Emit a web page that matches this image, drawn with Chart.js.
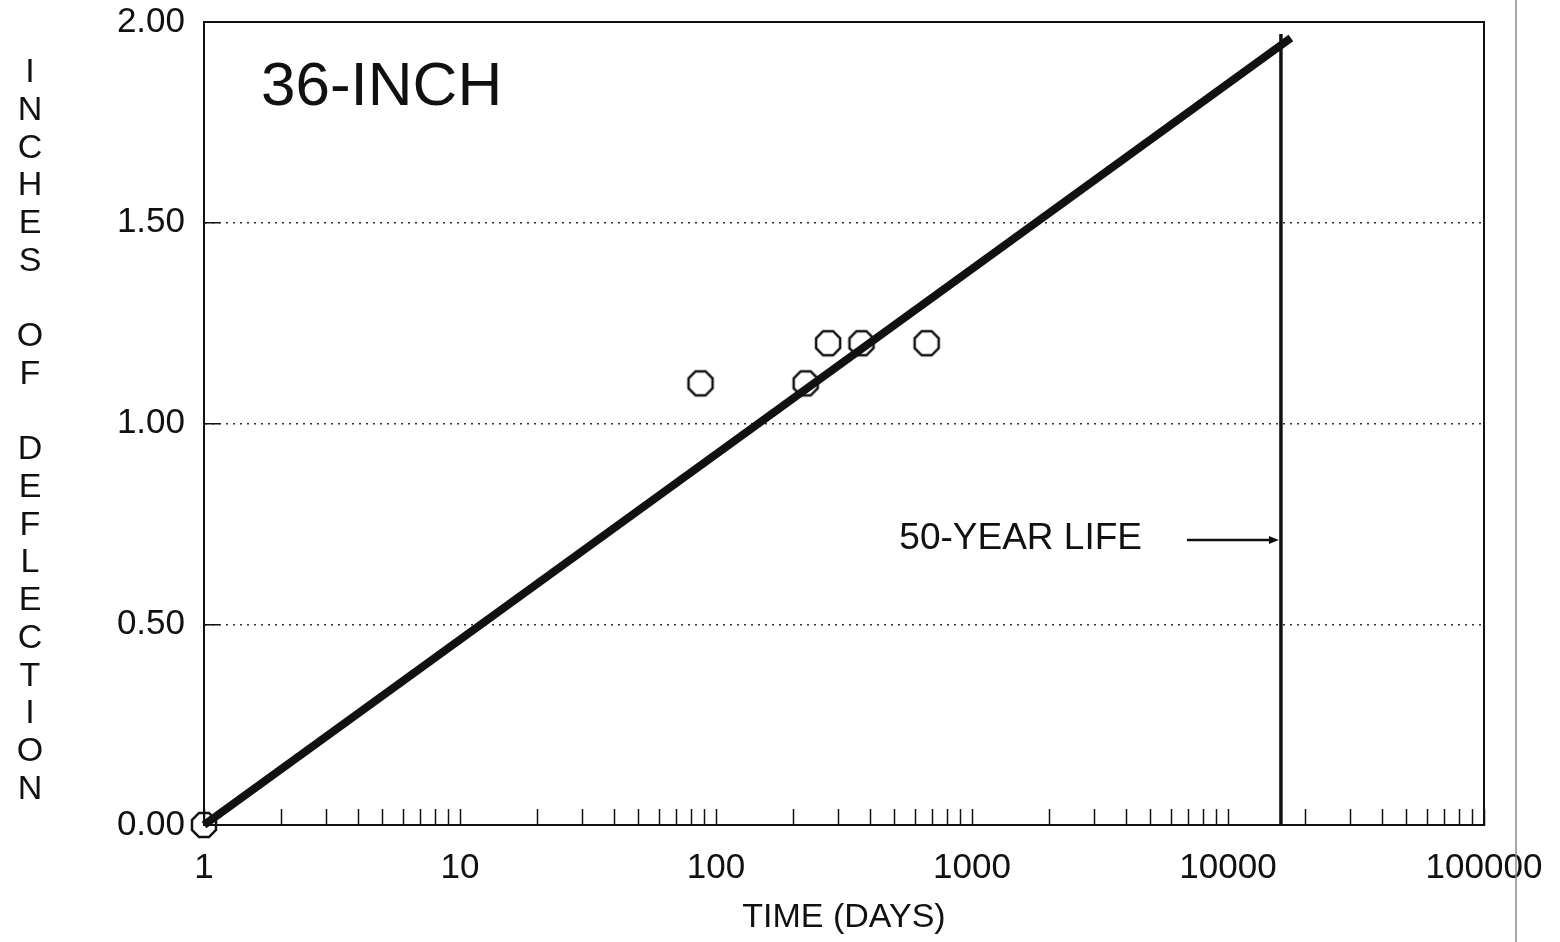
<!DOCTYPE html>
<html>
<head>
<meta charset="utf-8">
<title>36-INCH deflection</title>
<script src="https://cdn.jsdelivr.net/npm/chart.js@4.4.1/dist/chart.umd.min.js"></script>
<style>
  html, body { margin: 0; padding: 0; background: #fff; }
  #wrap { width: 1560px; height: 942px; position: relative; }
</style>
</head>
<body>
<div id="wrap"><canvas id="deflChart"></canvas></div>
<script>
// --- data ---
const xDecades = [1, 10, 100, 1000, 10000, 100000];
const yTickValues = [0, 0.5, 1.0, 1.5, 2.0];

const measuredDays = [1, 87, 224, 274, 370, 665];
const measuredDefl = [0, 1.10, 1.10, 1.20, 1.20, 1.20];

const trendDays = [1, 17600];
const trendDefl = [0, 1.96];

const lifeDays = [16100, 16100];
const lifeDefl = [0, 1.97];

const chartLabel = '36-INCH';
const lifeLabel = '50-YEAR LIFE';
const yTitle = 'INCHES OF DEFLECTION';
const xTitle = 'TIME (DAYS)';

const FONT = "'Liberation Sans', Arial, Helvetica, sans-serif";
const INK = '#111';

// octagon marker like the original plot
function makeOctagon(r, lw) {
    const c = document.createElement('canvas');
    const s = 2 * r + 4;
    c.width = s; c.height = s;
    const g = c.getContext('2d');
    g.beginPath();
    for (let i = 0; i < 8; i++) {
        const a = Math.PI / 8 + i * Math.PI / 4;
        const px = s / 2 + r * Math.cos(a);
        const py = s / 2 + r * Math.sin(a);
        if (i === 0) g.moveTo(px, py); else g.lineTo(px, py);
    }
    g.closePath();
    g.lineWidth = lw;
    g.strokeStyle = INK;
    g.stroke();
    return c;
}

const zip = (xs, ys) => xs.map((x, i) => ({ x: x, y: ys[i] }));

// no extra room for overhanging end labels
function noOverhang(axis) {
    axis.paddingTop = 0;
    axis.paddingBottom = 0;
    axis.paddingLeft = 0;
    axis.paddingRight = 0;
}

// text, frame and arrow drawn on top
const annotations = {
    id: 'annotations',
    afterDraw(chart) {
        const ctx = chart.ctx;
        const area = chart.chartArea;
        const xs = chart.scales.x;
        const ys = chart.scales.y;
        ctx.save();

        // box: top and right sides
        ctx.strokeStyle = INK;
        ctx.lineWidth = 2;
        ctx.beginPath();
        ctx.moveTo(area.left, area.top);
        ctx.lineTo(area.right, area.top);
        ctx.lineTo(area.right, area.bottom);
        ctx.stroke();

        // big label
        ctx.fillStyle = INK;
        ctx.font = '62px ' + FONT;
        ctx.textAlign = 'left';
        ctx.textBaseline = 'alphabetic';
        ctx.fillText(chartLabel, area.left + 57, 105);

        // 50-year label + arrow
        const lx = xs.getPixelForValue(lifeDays[0]);
        const ay = ys.getPixelForValue(0.71);
        ctx.font = '37px ' + FONT;
        ctx.textAlign = 'right';
        ctx.fillText(lifeLabel, lx - 139, ay + 9);
        ctx.lineWidth = 2.5;
        ctx.beginPath();
        ctx.moveTo(lx - 94, ay);
        ctx.lineTo(lx - 8, ay);
        ctx.stroke();
        ctx.beginPath();
        ctx.moveTo(lx - 2, ay);
        ctx.lineTo(lx - 12, ay - 4);
        ctx.lineTo(lx - 12, ay + 4);
        ctx.closePath();
        ctx.fill();

        // stacked vertical y title
        ctx.font = '34px ' + FONT;
        ctx.textAlign = 'center';
        ctx.textBaseline = 'middle';
        const step = 37.7;
        yTitle.split('').forEach((ch, i) => {
            if (ch !== ' ') ctx.fillText(ch, 30, 73 + i * step);
        });

        // page edge from the scan
        ctx.strokeStyle = '#888';
        ctx.lineWidth = 1.5;
        ctx.beginPath();
        ctx.moveTo(1516, 0);
        ctx.lineTo(1516, 942);
        ctx.stroke();

        ctx.restore();
    }
};

const ctx = document.getElementById('deflChart').getContext('2d');

new Chart(ctx, {
    type: 'scatter',
    data: {
        datasets: [
            {
                label: 'Trend',
                data: zip(trendDays, trendDefl),
                showLine: true,
                borderColor: INK,
                borderWidth: 8,
                pointRadius: 0,
                clip: false
            },
            {
                label: '50-year life',
                data: zip(lifeDays, lifeDefl),
                showLine: true,
                borderColor: INK,
                borderWidth: 3.5,
                pointRadius: 0
            },
            {
                label: 'Measured',
                data: zip(measuredDays, measuredDefl),
                showLine: false,
                pointStyle: makeOctagon(13, 2.5),
                pointRadius: 13,
                clip: false
            }
        ]
    },
    options: {
        responsive: true,
        maintainAspectRatio: false,
        animation: false,
        layout: { padding: { top: 22, right: 76, left: 0, bottom: 0 } },
        plugins: {
            legend: { display: false },
            tooltip: { enabled: false }
        },
        scales: {
            x: {
                type: 'logarithmic',
                min: xDecades[0],
                max: xDecades[xDecades.length - 1],
                afterBuildTicks: (axis) => {
                    const t = [];
                    for (let i = 0; i < xDecades.length - 1; i++) {
                        for (let m = 1; m < 10; m++) t.push({ value: xDecades[i] * m });
                    }
                    t.push({ value: xDecades[xDecades.length - 1] });
                    axis.ticks = t;
                },
                afterFit: (axis) => { axis.height = 117; noOverhang(axis); },
                grid: {
                    drawOnChartArea: false,
                    drawTicks: true,
                    tickLength: -16,
                    tickColor: INK,
                    tickWidth: 1.5
                },
                border: { color: INK, width: 2 },
                ticks: {
                    autoSkip: false,
                    maxRotation: 0,
                    padding: 38,
                    color: INK,
                    font: { family: FONT, size: 35 },
                    callback: (v) => xDecades.includes(v) ? String(v) : ''
                },
                title: {
                    display: true,
                    text: xTitle,
                    color: INK,
                    font: { family: FONT, size: 34 },
                    padding: { top: 0, bottom: 4 }
                }
            },
            y: {
                type: 'linear',
                min: yTickValues[0],
                max: yTickValues[yTickValues.length - 1],
                afterBuildTicks: (axis) => {
                    axis.ticks = yTickValues.map(v => ({ value: v }));
                },
                afterFit: (axis) => { axis.width = 204; noOverhang(axis); },
                grid: {
                    color: '#333',
                    lineWidth: 1.5,
                    drawTicks: true,
                    tickLength: -16,
                    tickColor: INK,
                    tickWidth: 1.5,
                    tickBorderDash: []
                },
                border: { color: INK, width: 2, dash: [2, 5] },
                ticks: {
                    padding: 35,
                    color: INK,
                    font: { family: FONT, size: 35 },
                    callback: (v) => Number(v).toFixed(2)
                }
            }
        }
    },
    plugins: [annotations]
});
</script>
</body>
</html>
